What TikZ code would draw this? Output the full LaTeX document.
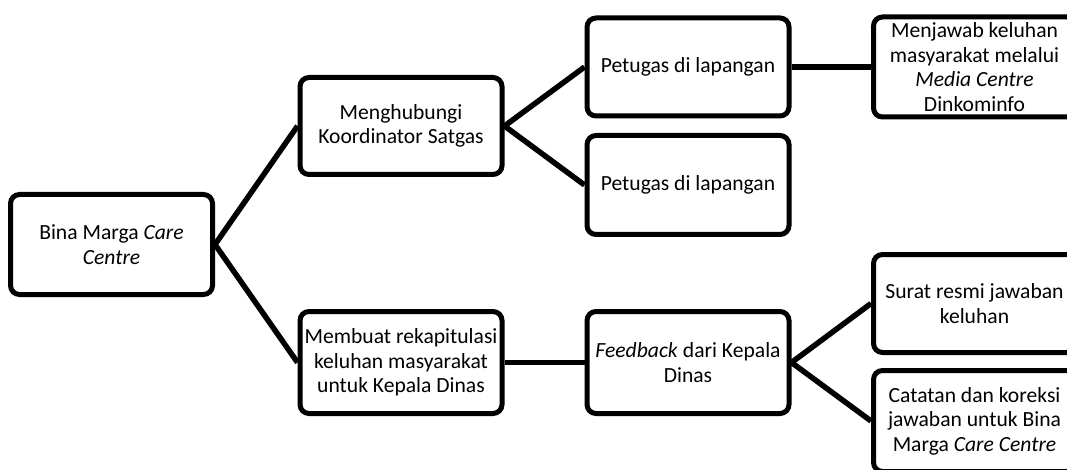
\documentclass[tikz,border=0pt]{standalone}
\usepackage{fontspec}
\setmainfont{Carlito}
\begin{document}
\begin{tikzpicture}[x=1pt,y=-1pt,
  box/.style={draw=black, line width=5pt, rounded corners=9pt, fill=white,
    minimum width=202pt, inner sep=0pt, align=center,
    font=\fontsize{21.6}{24.5}\selectfont},
  link/.style={draw=black, line width=5.5pt}]
\useasboundingbox (0,0) rectangle (1067,470);
\clip (0,0) rectangle (1067,470);
\node[box, minimum height=100pt] (A) at (111.5,244.5) {Bina Marga \textit{Care}\\\textit{Centre}};
\node[box, minimum height=97pt] (B) at (401,126) {Menghubungi\\Koordinator Satgas};
\node[box, minimum height=98pt] (C) at (688,67) {Petugas di lapangan};
\node[box, minimum height=99pt] (D) at (688,185) {Petugas di lapangan};
\node[box, minimum height=100pt] (E) at (974.5,67) {Menjawab keluhan\\masyarakat melalui\\\textit{Media Centre}\\Dinkominfo};
\node[box, minimum height=102pt] (F) at (401,362.5) {Membuat rekapitulasi\\keluhan masyarakat\\untuk Kepala Dinas};
\node[box, minimum height=102pt] (G) at (688,362.5) {\textit{Feedback} dari Kepala\\Dinas};
\node[box, minimum height=98pt] (H) at (974.5,303.5) {Surat resmi jawaban\\keluhan};
\node[box, minimum height=101pt] (I) at (974.5,421) {Catatan dan koreksi\\jawaban untuk Bina\\Marga \textit{Care Centre}};
\draw[link] (A.east) -- (B.west);
\draw[link] (A.east) -- (F.west);
\draw[link] (B.east) -- (C.west);
\draw[link] (B.east) -- (D.west);
\draw[link] (C.east) -- (E.west);
\draw[link] (F.east) -- (G.west);
\draw[link] (G.east) -- (H.west);
\draw[link] (G.east) -- (I.west);
\end{tikzpicture}
\end{document}
